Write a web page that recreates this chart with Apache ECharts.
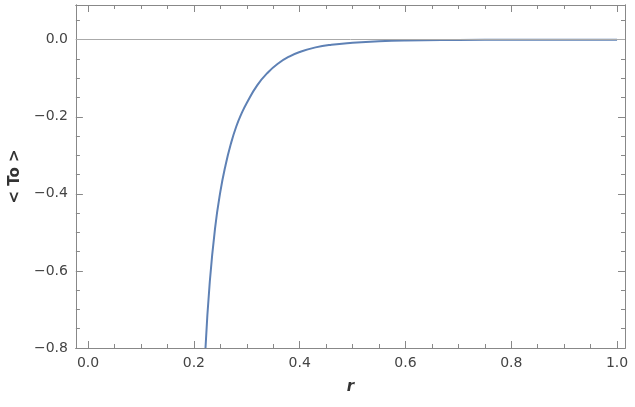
<!DOCTYPE html><html><head><meta charset="utf-8">
<script src="https://cdn.jsdelivr.net/npm/echarts@6/dist/echarts.min.js"></script>
<style>body{margin:0}#c{width:635px;height:407px}</style></head><body><div id="c"></div>
<script>
const rValues=[0.222,0.23,0.24,0.25,0.26,0.27,0.28,0.29,0.30,0.32,0.34,0.36,0.38,0.40,0.43,0.46,0.50,0.55,0.60,0.70,0.80,0.90,1.0];
const toValues=[-0.8,-0.63,-0.49,-0.395,-0.325,-0.27,-0.226,-0.192,-0.164,-0.118,-0.085,-0.061,-0.044,-0.032,-0.02,-0.013,-0.008,-0.004,-0.002,-0.0008,-0.0003,-0.0001,0];
const xTicks=[0,0.2,0.4,0.6,0.8,1.0];
const yTicks=[-0.8,-0.6,-0.4,-0.2,0];
const xMinor=[];for(let i=0;i<=20;i++)xMinor.push(+(i*0.05).toFixed(2));
const yMinor=[];for(let i=0;i<=17;i++)yMinor.push(+(-0.8+i*0.05).toFixed(2));
const lc='#888',tc='#444',font='"DejaVu Sans", sans-serif';
const fmt=v=>(v<0?'\u2212':'')+Math.abs(v).toFixed(1);
const xr={min:-0.023,max:1.015},yr={min:-0.8,max:0.09};
function ax(pos,base,ticks,len,labels,extra){return Object.assign({type:'value',position:pos,min:base.min,max:base.max,splitLine:{show:false},
 axisLine:{show:true,onZero:false,lineStyle:{color:lc}},
 axisTick:{show:true,inside:true,length:len,customValues:ticks,lineStyle:{color:lc}},
 axisLabel:labels?{show:true,customValues:labels,formatter:fmt,color:tc,fontSize:14,fontFamily:font,margin:8}:{show:false}},extra||{});}
const chart=echarts.init(document.getElementById('c'));
chart.setOption({animation:false,
 grid:{left:73,right:10,top:5,bottom:59},
 xAxis:[ax('bottom',xr,xTicks,7,xTicks,{name:'r',nameLocation:'middle',nameGap:32,nameTextStyle:{fontStyle:'italic',fontWeight:'bold',fontSize:15,color:'#333',fontFamily:font}}),
  ax('bottom',xr,xMinor,4,null),ax('top',xr,xTicks,7,null),ax('top',xr,xMinor,4,null)],
 yAxis:[ax('left',yr,yTicks,7,yTicks,{name:'< To >',nameLocation:'middle',nameGap:52,nameTextStyle:{fontWeight:'bold',fontSize:15,color:'#333',fontFamily:font}}),
  ax('left',yr,yMinor,4,null),ax('right',yr,yTicks,7,null),ax('right',yr,yMinor,4,null)],
 series:[{type:'line',data:rValues.map((r,i)=>[r,toValues[i]]),smooth:0.5,showSymbol:false,
  lineStyle:{color:'#5E81B5',width:2},
  markLine:{silent:true,symbol:'none',label:{show:false},lineStyle:{color:'#aaa',width:1,type:'solid'},data:[{yAxis:0}]}}]
});
</script></body></html>
